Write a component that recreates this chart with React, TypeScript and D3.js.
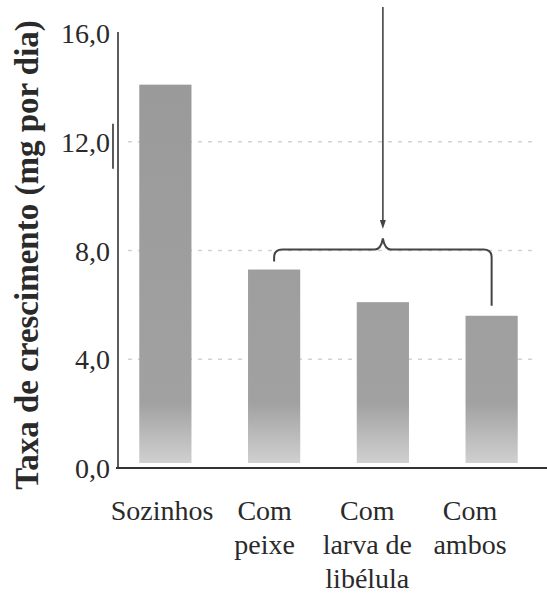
import React from "react";
import * as d3 from "d3";

const categories = ["Sozinhos", "Com peixe", "Com larva de libélula", "Com ambos"];
const categoryLines = [["Sozinhos"], ["Com", "peixe"], ["Com", "larva de", "libélula"], ["Com", "ambos"]];
const values = [14.1, 7.3, 6.1, 5.6];
const yTicks = [0, 4, 8, 12, 16];
const gridTicks = [4, 8, 12];
const yTitle = "Taxa de crescimento (mg por dia)";

const W = 547;
const H = 593;
const plotLeft = 118;
const plotBottom = 468;
const plotTop = 33;

export default function App() {
  const y = d3.scaleLinear().domain([0, 16]).range([plotBottom, plotTop]);
  const x = d3
    .scaleBand<string>()
    .domain(categories)
    .range([111, 546])
    .paddingInner(0.52)
    .paddingOuter(0.26);
  const labelX = d3.scalePoint<string>().domain(categories).range([162, 470]);
  const bw = x.bandwidth();
  const cx = (c: string) => (x(c) as number) + bw / 2;
  const fmt = (v: number) => v.toFixed(1).replace(".", ",");

  const xl = cx(categories[1]);
  const xm = cx(categories[2]);
  const xr = cx(categories[3]);
  const by = y(8) - 1;
  const r = 8;
  const leftEnd = y(values[1]) - 8;
  const rightEnd = y(values[3]) - 10;
  const bracket = d3.path();
  bracket.moveTo(xl, leftEnd);
  bracket.lineTo(xl, by + r);
  bracket.quadraticCurveTo(xl, by, xl + r, by);
  bracket.lineTo(xm - 8, by);
  bracket.quadraticCurveTo(xm - 2, by, xm, by - 11);
  bracket.quadraticCurveTo(xm + 2, by, xm + 8, by);
  bracket.lineTo(xr - r, by);
  bracket.quadraticCurveTo(xr, by, xr, by + r);
  bracket.lineTo(xr, rightEnd);

  const serif = { fontFamily: '"Liberation Serif", "Times New Roman", Times, "DejaVu Serif", serif' };
  const barBottom = plotBottom - 5;

  return (
    <svg
      width={W}
      height={H}
      viewBox={`0 0 ${W} ${H}`}
      style={{ position: "absolute", left: 0, top: 0, background: "#fff" }}
    >
      <defs>
        <linearGradient id="barGrad" gradientUnits="userSpaceOnUse" x1="0" y1={y(16)} x2="0" y2={barBottom}>
          <stop offset="0%" stopColor="#999999" />
          <stop offset="86%" stopColor="#a1a1a1" />
          <stop offset="100%" stopColor="#d0d0d0" />
        </linearGradient>
      </defs>

      {gridTicks.map((t) => (
        <line
          key={t}
          x1={128}
          x2={532}
          y1={y(t)}
          y2={y(t)}
          stroke="#d2d2d2"
          strokeWidth={1.5}
          strokeDasharray="4 6"
        />
      ))}

      {categories.map((c, i) => (
        <rect
          key={c}
          x={x(c)}
          y={y(values[i])}
          width={bw}
          height={barBottom - y(values[i])}
          fill="url(#barGrad)"
        />
      ))}

      {/* axes */}
      <line x1={plotLeft} x2={plotLeft} y1={plotTop - 1} y2={plotBottom + 1} stroke="#333" strokeWidth={1.6} />
      <line x1={plotLeft - 2} x2={W} y1={plotBottom} y2={plotBottom} stroke="#333" strokeWidth={2.2} />
      <line x1={113} x2={113} y1={y(12) - 18} y2={y(12) + 27} stroke="#333" strokeWidth={1.6} />

      {yTicks.map((t) => (
        <text
          key={t}
          x={110}
          y={y(t) + 10}
          textAnchor="end"
          style={serif}
          fontSize={28}
          fill="#2a2a2a"
        >
          {fmt(t)}
        </text>
      ))}

      {categories.map((c, i) => (
        <text key={c} textAnchor="middle" style={serif} fontSize={28} fill="#2a2a2a">
          {categoryLines[i].map((ln, j) => (
            <tspan key={j} x={labelX(c)} y={520 + j * 34}>
              {ln}
            </tspan>
          ))}
        </text>
      ))}

      <text
        transform={`translate(38, 255) rotate(-90)`}
        textAnchor="middle"
        style={serif}
        fontWeight="bold"
        fontSize={33}
        fill="#2a2a2a"
      >
        {yTitle}
      </text>

      {/* annotation */}
      <line x1={xm} x2={xm} y1={7} y2={224} stroke="#444" strokeWidth={1.6} />
      <path d={`M${xm - 3},${220} L${xm + 3},${220} L${xm},${229} Z`} fill="#444" />
      <path d={bracket.toString()} fill="none" stroke="#444" strokeWidth={2} />
    </svg>
  );
}
